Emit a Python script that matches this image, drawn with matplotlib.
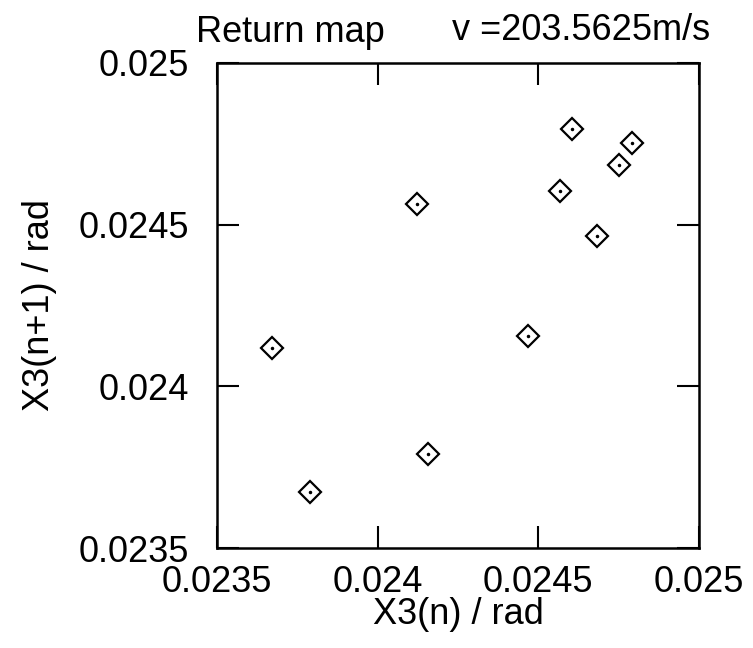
import numpy as np
from matplotlib import pyplot as plt

plt.rcParams['font.family'] = ['Liberation Sans', 'DejaVu Sans']

# points
x3_n = [0.023670, 0.023790, 0.024122, 0.024157, 0.024469,
        0.024567, 0.024606, 0.024684, 0.024751, 0.024793]
x3_n1 = [0.024120, 0.023672, 0.024565, 0.023791, 0.024157,
         0.024605, 0.024795, 0.024466, 0.024685, 0.024753]
ticks = [0.0235, 0.024, 0.0245, 0.025]
tick_labels = ['0.0235', '0.024', '0.0245', '0.025']

fig = plt.figure(figsize=(7.53, 6.48), dpi=100)
ax = fig.add_axes([217/753, 1 - 548/648, (699 - 217)/753, (548 - 63)/648])

ax.plot(x3_n, x3_n1, ls='none', marker='D', ms=11, mfc='none', mec='black', mew=1.6)
ax.plot(x3_n, x3_n1, ls='none', marker='o', ms=1.5, color='black')

ax.set_xlim(0.0235, 0.025)
ax.set_ylim(0.0235, 0.025)
ax.set_xticks(ticks)
ax.set_xticklabels(tick_labels)
ax.set_yticks(ticks)
ax.set_yticklabels(tick_labels)
ax.tick_params(direction='in', length=16, width=1.5, labelsize=26,
               top=True, right=True)
ax.tick_params(axis='x', pad=12)
ax.tick_params(axis='y', pad=20)
for s in ax.spines.values():
    s.set_linewidth(1.8)

ax.set_xlabel('X3(n) / rad', fontsize=26, labelpad=-2)
ax.set_ylabel('X3(n+1) / rad', fontsize=26, labelpad=16)

fig.text(290/753, 1 - 33/648, 'Return map', fontsize=26, ha='center', va='center')
fig.text(581/753, 1 - 30/648, 'v =203.5625m/s', fontsize=26, ha='center', va='center')

fig.savefig('out.png', dpi=100)
